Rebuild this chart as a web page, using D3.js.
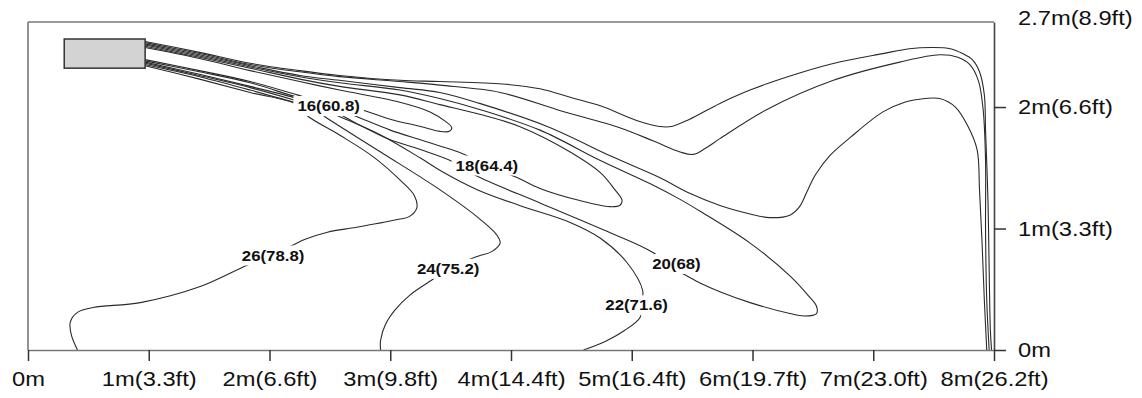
<!DOCTYPE html>
<html><head><meta charset="utf-8">
<script src="https://cdn.jsdelivr.net/npm/d3@7"></script>
<style>body{margin:0;background:#fff;} svg{display:block;}</style>
</head><body><svg id="c" width="1142" height="398"></svg>
<script>
// ---- data (metres) ----
const xTicks = [0,1,2,3,4,5,6,7,8];
const xTickLabels = ["0m","1m(3.3ft)","2m(6.6ft)","3m(9.8ft)","4m(14.4ft)","5m(16.4ft)","6m(19.7ft)","7m(23.0ft)","8m(26.2ft)"];
const yTicks = [0,1,2,2.7];
const yTickLabels = ["0m","1m(3.3ft)","2m(6.6ft)","2.7m(8.9ft)"];
const diffuserX = [0.30,0.97];
const diffuserY = [2.32,2.56];

const cTop1 = [[0.97,2.54],[1.42,2.45],[1.84,2.36],[2.25,2.30],[2.58,2.26],[3.08,2.22],[3.41,2.21],[3.93,2.19],[4.24,2.15],[4.49,2.08],[4.74,2.01],[5.04,1.89],[5.23,1.84],[5.33,1.84],[5.48,1.90],[5.73,2.03],[5.98,2.14],[6.39,2.28],[6.72,2.37],[7.08,2.44],[7.30,2.48],[7.49,2.49],[7.64,2.48],[7.74,2.44],[7.82,2.39],[7.88,2.29],[7.92,2.10],[7.93,1.81],[7.95,1.23],[7.96,0.66],[7.97,0.16],[7.98,0]];
const cTop2 = [[0.97,2.53],[1.42,2.44],[1.84,2.35],[2.25,2.29],[2.58,2.25],[3.08,2.21],[3.41,2.18],[3.91,2.12],[4.41,1.97],[4.90,1.83],[5.18,1.72],[5.40,1.63],[5.51,1.61],[5.61,1.66],[5.73,1.74],[6.12,1.98],[6.67,2.22],[7.22,2.37],[7.55,2.43],[7.70,2.41],[7.80,2.35],[7.87,2.22],[7.91,1.98],[7.93,1.56],[7.93,0.99],[7.94,0.41],[7.96,0]];
const cTop3 = [[0.97,2.52],[1.42,2.43],[1.84,2.34],[2.25,2.26],[2.58,2.22],[3.08,2.16],[3.41,2.12],[3.74,2.03],[4.30,1.84],[4.84,1.59],[5.23,1.42],[5.48,1.29],[5.73,1.19],[5.98,1.12],[6.14,1.09],[6.31,1.11],[6.39,1.18],[6.45,1.30],[6.52,1.44],[6.64,1.60],[6.81,1.75],[7.08,1.96],[7.26,2.04],[7.43,2.07],[7.55,2.07],[7.68,2.00],[7.78,1.85],[7.86,1.65],[7.88,1.32],[7.90,0.91],[7.92,0.41],[7.94,0]];
const c16 = [[0.97,2.49],[1.42,2.40],[1.84,2.30],[2.25,2.21],[2.58,2.14],[3.08,2.04],[3.33,1.96],[3.46,1.88],[3.51,1.83],[3.49,1.80],[3.41,1.80],[3.25,1.84],[3.00,1.90],[2.75,1.98],[2.50,2.02],[2.23,2.10],[1.84,2.21],[1.42,2.30],[0.97,2.39]];
const c18 = [[0.97,2.50],[1.42,2.41],[1.84,2.32],[2.25,2.23],[2.58,2.17],[3.08,2.10],[3.41,2.02],[3.74,1.94],[4.07,1.84],[4.49,1.63],[4.74,1.46],[4.86,1.32],[4.92,1.23],[4.90,1.19],[4.82,1.18],[4.57,1.23],[4.24,1.33],[4.05,1.42],[3.80,1.52],[3.59,1.62],[3.41,1.68],[3.25,1.73],[3.00,1.81],[2.75,1.91],[2.50,2.01],[2.23,2.08],[1.84,2.20],[1.42,2.29],[0.97,2.38]];
const c20 = [[0.97,2.51],[1.42,2.42],[1.84,2.33],[2.25,2.25],[2.58,2.20],[3.08,2.14],[3.41,2.07],[3.74,1.98],[4.24,1.81],[4.74,1.56],[5.15,1.37],[5.40,1.24],[5.57,1.14],[5.98,0.88],[6.31,0.61],[6.46,0.45],[6.53,0.36],[6.53,0.30],[6.43,0.28],[6.31,0.30],[5.98,0.39],[5.73,0.48],[5.57,0.55],[5.42,0.63],[5.30,0.69],[5.18,0.80],[4.74,1.00],[4.24,1.21],[3.70,1.44],[3.52,1.55],[3.25,1.65],[3.00,1.73],[2.75,1.85],[2.50,1.98],[2.23,2.07],[1.84,2.17],[1.42,2.27],[0.97,2.37]];
const c22 = [[0.97,2.36],[1.42,2.26],[1.84,2.16],[2.23,2.05],[2.42,1.99],[2.56,1.93],[2.92,1.77],[3.25,1.58],[3.41,1.48],[3.72,1.32],[4.07,1.19],[4.49,1.05],[4.74,0.92],[4.96,0.72],[5.09,0.49],[5.08,0.37],[5.07,0.27],[4.94,0.16],[4.78,0.07],[4.60,0]];
const c24 = [[0.97,2.35],[1.42,2.25],[1.84,2.14],[2.23,2.03],[2.38,1.98],[2.46,1.92],[2.92,1.63],[3.41,1.32],[3.74,1.08],[3.88,0.95],[3.91,0.88],[3.84,0.81],[3.72,0.77],[3.48,0.67],[3.35,0.58],[3.16,0.45],[3.04,0.33],[2.96,0.21],[2.92,0.08],[2.92,0]];
const c26 = [[0.97,2.34],[1.42,2.23],[1.84,2.12],[2.23,2.02],[2.31,1.93],[2.58,1.77],[2.86,1.59],[3.08,1.40],[3.20,1.27],[3.22,1.17],[3.16,1.10],[3.04,1.07],[2.72,1.01],[2.48,0.97],[2.29,0.91],[2.03,0.78],[1.82,0.70],[1.42,0.52],[0.93,0.39],[0.54,0.35],[0.41,0.31],[0.35,0.23],[0.36,0.12],[0.41,0]];
const contours = [cTop1,cTop2,cTop3,c16,c18,c20,c22,c24,c26];

const labelTexts = ["16(60.8)","18(64.4)","20(68)","22(71.6)","24(75.2)","26(78.8)"];
const labelX = [2.49,3.80,5.37,5.04,3.48,2.03];
const labelY = [2.01,1.52,0.71,0.37,0.67,0.78];

// ---- drawing ----
const svg = d3.select("#c");
const x = d3.scaleLinear().domain([0,8]).range([28,994]);
const y = d3.scaleLinear().domain([0,2.7]).range([350,22]);
const FONT = "Liberation Sans, Arial, Helvetica, sans-serif";

// frame (top + left)
svg.append("line").attr("x1",x(0)).attr("x2",x(8)).attr("y1",y(2.7)).attr("y2",y(2.7)).attr("stroke","#777").attr("stroke-width",1.6);
svg.append("line").attr("x1",x(0)).attr("x2",x(0)).attr("y1",y(0)).attr("y2",y(2.7)).attr("stroke","#777").attr("stroke-width",1.6);

// contours
const line = d3.line().x(d=>x(d[0])).y(d=>y(d[1])).curve(d3.curveCatmullRom.alpha(0.5));
svg.append("g").selectAll("path").data(contours).join("path")
  .attr("d",line).attr("fill","none").attr("stroke","#2a2a2a").attr("stroke-width",1.1);

// diffuser
svg.append("rect").attr("x",x(diffuserX[0])).attr("y",y(diffuserY[1]))
  .attr("width",x(diffuserX[1])-x(diffuserX[0])).attr("height",y(diffuserY[0])-y(diffuserY[1]))
  .attr("fill","#d3d3d3").attr("stroke","#333").attr("stroke-width",1.5);

// contour labels
const lg = svg.append("g").selectAll("g").data(labelTexts).join("g")
  .attr("transform",(d,i)=>`translate(${x(labelX[i])},${y(labelY[i])})`);
lg.each(function(d){
  const g = d3.select(this);
  const r = g.append("rect").attr("fill","#fff");
  const t = g.append("text").text(d).attr("text-anchor","middle").attr("dy","0.36em")
    .attr("font-family",FONT).attr("font-weight","bold").attr("font-size",15)
    .attr("fill","#111").attr("transform","scale(1.12,1)");
  const b = t.node().getBBox();
  r.attr("x",b.x*1.12-4).attr("y",b.y-2).attr("width",b.width*1.12+8).attr("height",b.height+4);
});

// bottom axis
const xa = svg.append("g").attr("transform",`translate(0,${y(0)})`)
  .call(d3.axisBottom(x).tickValues(xTicks).tickFormat((d,i)=>xTickLabels[i]).tickSize(11).tickSizeOuter(0).tickPadding(10));
xa.select(".domain").attr("stroke","#777").attr("stroke-width",1.6);
xa.selectAll(".tick line").attr("stroke","#333").attr("stroke-width",1.5);
xa.selectAll(".tick text").attr("font-family",FONT).attr("font-size",21).attr("fill","#111").attr("transform","scale(1.13,1)");

// right axis
const ya = svg.append("g").attr("transform",`translate(${x(8)},0)`)
  .call(d3.axisRight(y).tickValues(yTicks).tickFormat((d,i)=>yTickLabels[i]).tickSize(12).tickSizeOuter(0).tickPadding(14));
ya.select(".domain").attr("stroke","#444").attr("stroke-width",1.6);
ya.selectAll(".tick line").attr("stroke","#333").attr("stroke-width",1.5).attr("display",d=>d===2.7?"none":null);
ya.selectAll(".tick text").attr("font-family",FONT).attr("font-size",21).attr("fill","#111")
  .attr("x",0).attr("transform","translate(24,0) scale(1.13,1)");
ya.selectAll(".tick").filter(d=>d===2.7).select("text").attr("dy","0.1em");
</script></body></html>
